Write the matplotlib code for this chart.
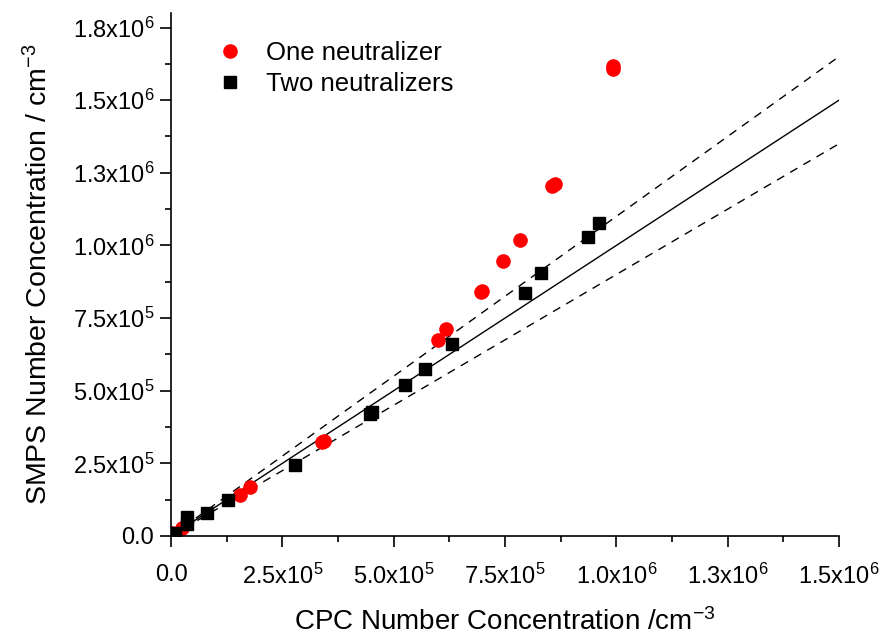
import matplotlib
matplotlib.use("Agg")
import matplotlib.pyplot as plt
import numpy as np

plt.rcParams['font.family'] = ['Liberation Sans', 'DejaVu Sans']
plt.rcParams['mathtext.fontset'] = 'custom'
plt.rcParams['mathtext.rm'] = 'Liberation Sans'
plt.rcParams['mathtext.it'] = 'Liberation Sans'

# One neutralizer (red circles)
one_x = [3e3, 24e3, 155e3, 178e3, 340e3, 344e3, 600e3, 617e3, 696e3, 699e3,
         746e3, 784e3, 855e3, 862e3, 992e3, 993e3]
one_y = [9e3, 26e3, 141e3, 169e3, 323e3, 327e3, 676e3, 711e3, 839e3, 843e3,
         948e3, 1020e3, 1204e3, 1211e3, 1608e3, 1618e3]

# Two neutralizers (black squares)
two_x = [8e3, 36e3, 36e3, 80e3, 129e3, 278e3, 446e3, 451e3, 525e3, 570e3,
         632e3, 794e3, 830e3, 937e3, 962e3]
two_y = [12e3, 43e3, 66e3, 78e3, 125e3, 244e3, 420e3, 426e3, 518e3, 574e3,
         661e3, 838e3, 905e3, 1029e3, 1076e3]

# Reference lines: 1:1 and +/-10%
line_x = [0, 1.5e6]
ratios = [1.0, 1.1, 0.9]

xticks = [0, 2.5e5, 5.0e5, 7.5e5, 1.0e6, 1.25e6, 1.5e6]
xticklabels = ['0.0', r'2.5x10$^{5}$', r'5.0x10$^{5}$', r'7.5x10$^{5}$',
               r'1.0x10$^{6}$', r'1.3x10$^{6}$', r'1.5x10$^{6}$']
yticks = [0, 2.5e5, 5.0e5, 7.5e5, 1.0e6, 1.25e6, 1.5e6, 1.75e6]
yticklabels = ['0.0', r'2.5x10$^{5}$', r'5.0x10$^{5}$', r'7.5x10$^{5}$',
               r'1.0x10$^{6}$', r'1.3x10$^{6}$', r'1.5x10$^{6}$', r'1.8x10$^{6}$']

fig = plt.figure(figsize=(8.85, 6.37), dpi=100)
ax = fig.add_axes([171/885, 1-536/637, (839-171)/885, (536-13)/637])

lx = np.array(line_x)
ax.plot(lx, lx*ratios[0], color='black', lw=1.0, zorder=1)
ax.plot(lx, lx*ratios[1], color='black', lw=1.0, ls=(0, (6, 5)), zorder=1)
ax.plot(lx, lx*ratios[2], color='black', lw=1.0, ls=(0, (6, 5)), zorder=1)

ax.plot(two_x, two_y, ls='none', marker='s', ms=8.0, color='black',
        label='Two neutralizers', zorder=3)
ax.plot(one_x, one_y, ls='none', marker='o', ms=9.5, color='#ff0000',
        mec='#ff0000', label='One neutralizer', zorder=2)

ax.set_xlim(0, 1.5e6)
ax.set_ylim(0, 1.8e6)
ax.set_xticks(xticks)
ax.set_xticklabels(xticklabels)
ax.set_yticks(yticks)
ax.set_yticklabels(yticklabels)
ax.set_xticks(np.arange(1.25e5, 1.5e6, 2.5e5), minor=True)
ax.set_yticks(np.arange(1.25e5, 1.8e6, 2.5e5), minor=True)

for s in ['top', 'right']:
    ax.spines[s].set_visible(False)
for s in ['left', 'bottom']:
    ax.spines[s].set_linewidth(1.2)

ax.tick_params(which='major', length=8, width=1.2, labelsize=17, direction='out', pad=4)
ax.tick_params(which='minor', length=4.5, width=1.2, direction='out')
ax.tick_params(axis='x', pad=12)

ax.set_xlabel(r'CPC Number Concentration /cm$^{-3}$', fontsize=20, labelpad=14)
ax.set_ylabel(r'SMPS Number Concentration / cm$^{-3}$', fontsize=20.5, labelpad=14)

handles, labels = ax.get_legend_handles_labels()
leg = ax.legend(handles[::-1], labels[::-1], loc='upper left', frameon=False,
                fontsize=18.5, bbox_to_anchor=(0.035, 0.99), handletextpad=0.9,
                labelspacing=0.25, handlelength=1.0)

fig.savefig('out.png', dpi=100)
